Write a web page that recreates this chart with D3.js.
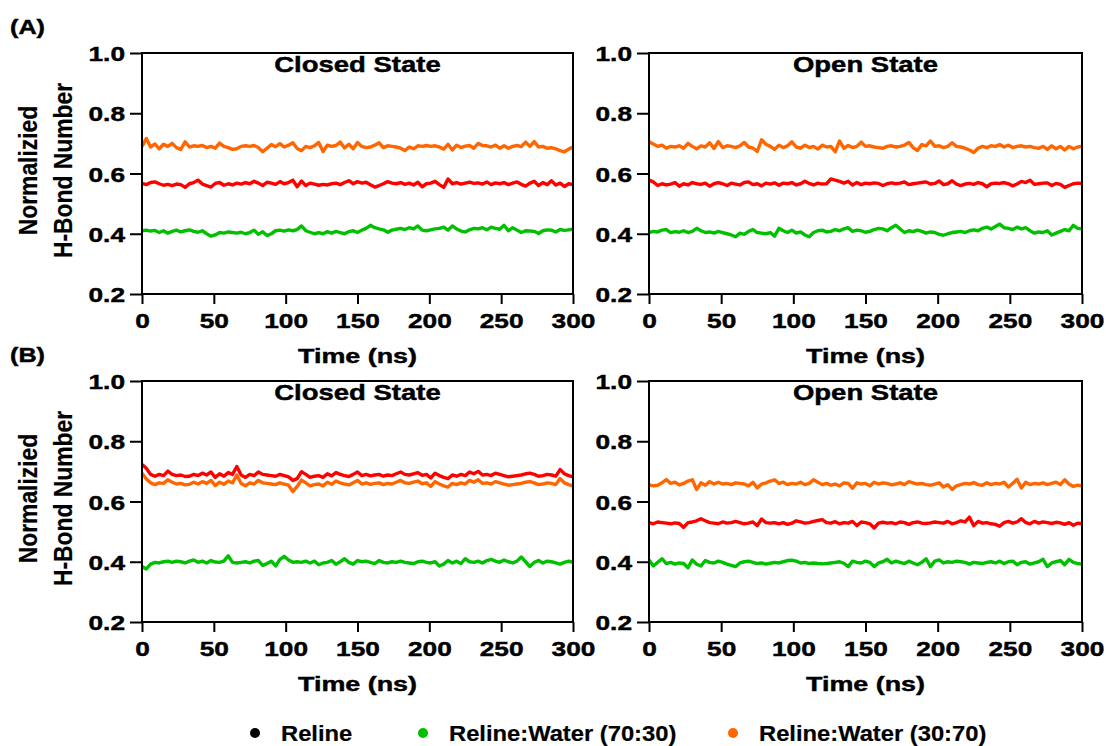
<!DOCTYPE html>
<html>
<head>
<meta charset="utf-8">
<script src="https://cdn.jsdelivr.net/npm/d3@7"></script>
<style>
  body { margin: 0; background: #fff; }
  svg { display: block; }
  text { font-family: "Liberation Sans", Arial, Helvetica, sans-serif; font-weight: bold; fill: #000; stroke: #000; stroke-width: 0.45px; }
</style>
</head>
<body>
<svg id="chart" width="1106" height="746"></svg>
<script>
// Sampling grid (ns) and axis ticks
const timeNs = d3.range(0, 301, 3);
const timeTicks = [0, 50, 100, 150, 200, 250, 300];
const hbondTicks = [0.2, 0.4, 0.6, 0.8, 1.0];
const seriesNames = ["Reline", "Reline:Water (70:30)", "Reline:Water (30:70)"];
const lineColors = ["#ff0000", "#00c000", "#ff6600"];
const legendColors = ["#000000", "#00c000", "#ff6600"];
const panelLetters = ["(A)", "(B)"];
const stateTitles = ["Closed State", "Open State"];

// (A) closed state
const relineAClosed = [
  .567,.563,.570,.572,.566,.561,.564,.560,.565,.563,
  .554,.566,.570,.578,.565,.560,.555,.567,.570,.561,
  .566,.562,.568,.565,.570,.566,.574,.568,.560,.571,
  .568,.564,.573,.566,.570,.578,.556,.575,.560,.568,
  .565,.561,.564,.562,.566,.568,.563,.570,.576,.566,
  .573,.568,.571,.563,.555,.560,.566,.573,.568,.566,
  .570,.564,.568,.562,.571,.556,.566,.568,.574,.563,
  .554,.582,.566,.570,.565,.568,.571,.567,.569,.565,
  .572,.563,.569,.566,.570,.563,.568,.572,.564,.558,
  .568,.574,.560,.570,.563,.576,.562,.568,.557,.566,
  .563];
const water7030AClosed = [
  .410,.412,.409,.411,.404,.410,.402,.408,.412,.406,
  .410,.413,.408,.405,.410,.400,.392,.396,.404,.402,
  .406,.404,.402,.405,.400,.404,.412,.398,.407,.394,
  .400,.410,.412,.409,.413,.410,.414,.426,.410,.405,
  .400,.404,.400,.407,.402,.408,.404,.400,.407,.410,
  .404,.412,.418,.428,.420,.416,.413,.405,.412,.415,
  .418,.414,.420,.416,.426,.412,.410,.413,.416,.418,
  .422,.412,.426,.416,.409,.406,.413,.418,.416,.420,
  .413,.422,.418,.415,.428,.410,.420,.412,.404,.410,
  .409,.408,.401,.410,.413,.412,.406,.414,.411,.413,
  .415];
const water3070AClosed = [
  .690,.716,.688,.698,.682,.697,.690,.700,.686,.680,
  .705,.688,.692,.690,.693,.686,.690,.684,.701,.690,
  .686,.680,.682,.690,.692,.690,.693,.686,.672,.684,
  .696,.689,.699,.688,.694,.702,.683,.676,.690,.686,
  .692,.703,.673,.694,.690,.693,.704,.685,.697,.682,
  .703,.690,.686,.688,.694,.702,.686,.692,.690,.688,
  .684,.676,.688,.682,.692,.690,.693,.690,.692,.688,
  .681,.697,.678,.694,.686,.691,.693,.684,.700,.693,
  .692,.688,.694,.684,.692,.684,.690,.693,.689,.704,
  .690,.706,.688,.690,.684,.686,.682,.676,.672,.681,
  .688];

// (A) open state
const relineAOpen = [
  .578,.572,.560,.566,.562,.565,.570,.558,.566,.562,
  .570,.566,.564,.568,.558,.566,.570,.566,.560,.568,
  .565,.562,.570,.572,.563,.566,.559,.568,.565,.569,
  .561,.568,.566,.570,.562,.566,.574,.567,.562,.568,
  .565,.566,.582,.578,.574,.568,.574,.562,.570,.563,
  .568,.566,.569,.567,.560,.566,.569,.566,.568,.572,
  .563,.566,.568,.570,.572,.565,.567,.575,.563,.566,
  .576,.565,.560,.565,.567,.564,.570,.566,.556,.566,
  .568,.567,.570,.566,.559,.565,.574,.570,.578,.564,
  .566,.568,.569,.560,.567,.564,.554,.560,.566,.568,
  .567];
const water7030AOpen = [
  .404,.408,.406,.412,.414,.404,.407,.405,.410,.404,
  .408,.418,.410,.404,.406,.402,.408,.404,.400,.396,
  .390,.402,.398,.408,.414,.404,.402,.400,.404,.392,
  .418,.410,.404,.412,.402,.406,.396,.390,.404,.410,
  .412,.406,.408,.414,.410,.416,.420,.408,.412,.410,
  .405,.408,.414,.418,.416,.410,.420,.428,.416,.404,
  .410,.407,.412,.408,.402,.406,.404,.398,.395,.400,
  .404,.406,.408,.404,.410,.413,.410,.418,.422,.416,
  .424,.432,.420,.418,.414,.422,.416,.420,.410,.402,
  .406,.404,.410,.396,.402,.408,.414,.410,.428,.418,
  .416];
const water3070AOpen = [
  .705,.698,.690,.694,.684,.690,.688,.692,.684,.700,
  .690,.682,.692,.688,.702,.683,.706,.686,.692,.690,
  .686,.692,.703,.688,.684,.673,.712,.697,.690,.680,
  .694,.686,.692,.705,.688,.684,.694,.686,.690,.681,
  .694,.688,.690,.672,.708,.684,.693,.686,.690,.704,
  .690,.692,.688,.686,.684,.690,.692,.688,.690,.694,
  .703,.686,.676,.696,.692,.708,.690,.692,.686,.690,
  .702,.690,.688,.684,.678,.670,.684,.690,.686,.692,
  .690,.696,.688,.694,.686,.690,.692,.688,.690,.686,
  .684,.690,.680,.692,.682,.690,.678,.690,.682,.688,
  .690];

// (B) closed state
const relineBClosed = [
  .723,.710,.690,.684,.690,.686,.701,.690,.686,.688,
  .683,.684,.690,.686,.694,.688,.698,.680,.692,.684,
  .696,.690,.716,.688,.680,.690,.686,.698,.690,.688,
  .686,.684,.690,.686,.682,.670,.676,.699,.690,.680,
  .684,.686,.680,.692,.685,.696,.690,.686,.683,.690,
  .698,.686,.690,.685,.688,.690,.684,.688,.686,.692,
  .698,.690,.688,.692,.696,.687,.690,.678,.694,.686,
  .680,.676,.688,.684,.690,.686,.698,.692,.700,.688,
  .690,.686,.694,.690,.686,.682,.684,.686,.688,.692,
  .694,.690,.684,.686,.690,.688,.684,.706,.692,.686,
  .682];
const water7030BClosed = [
  .384,.376,.392,.398,.396,.400,.402,.398,.402,.400,
  .396,.402,.406,.398,.402,.396,.404,.399,.398,.402,
  .420,.398,.396,.398,.400,.396,.402,.404,.388,.394,
  .402,.386,.408,.418,.406,.398,.400,.398,.402,.396,
  .402,.390,.396,.398,.404,.392,.400,.410,.398,.392,
  .404,.400,.402,.398,.394,.404,.398,.396,.400,.398,
  .402,.398,.396,.394,.400,.402,.398,.396,.400,.386,
  .392,.404,.396,.402,.394,.410,.400,.398,.402,.396,
  .404,.408,.402,.398,.406,.400,.396,.402,.416,.400,
  .384,.398,.404,.396,.402,.400,.396,.392,.398,.402,
  .398];
const water3070BClosed = [
  .694,.675,.662,.656,.662,.660,.672,.664,.658,.660,
  .655,.657,.664,.658,.666,.660,.670,.653,.664,.657,
  .668,.662,.688,.660,.652,.662,.658,.670,.662,.660,
  .658,.656,.662,.658,.654,.633,.650,.671,.662,.652,
  .656,.658,.652,.664,.657,.668,.662,.658,.655,.662,
  .670,.658,.662,.657,.660,.662,.656,.660,.658,.664,
  .670,.662,.660,.664,.668,.659,.662,.650,.666,.658,
  .652,.648,.660,.656,.662,.658,.670,.664,.672,.660,
  .662,.658,.666,.662,.658,.654,.656,.658,.660,.664,
  .666,.662,.656,.658,.662,.660,.656,.676,.662,.656,
  .652];

// (B) open state
const relineBOpen = [
  .530,.526,.532,.530,.528,.526,.529,.527,.514,.530,
  .532,.536,.543,.536,.530,.528,.526,.532,.528,.530,
  .534,.530,.526,.528,.532,.520,.542,.530,.528,.530,
  .526,.530,.524,.528,.536,.532,.528,.530,.534,.537,
  .540,.530,.528,.533,.526,.530,.528,.534,.520,.532,
  .530,.526,.512,.528,.531,.528,.530,.526,.532,.530,
  .524,.530,.532,.528,.527,.529,.532,.530,.528,.534,
  .526,.530,.536,.532,.548,.520,.534,.528,.530,.526,
  .524,.518,.530,.534,.528,.532,.543,.530,.526,.534,
  .528,.532,.530,.527,.531,.529,.524,.530,.521,.528,
  .526];
const water7030BOpen = [
  .406,.386,.398,.410,.394,.398,.392,.396,.394,.380,
  .406,.392,.386,.404,.398,.396,.402,.398,.392,.388,
  .384,.396,.400,.402,.398,.394,.396,.392,.395,.398,
  .396,.400,.404,.405,.402,.396,.398,.394,.396,.394,
  .393,.394,.396,.398,.400,.395,.384,.402,.398,.396,
  .402,.398,.384,.396,.400,.408,.396,.402,.398,.394,
  .402,.396,.390,.398,.410,.384,.402,.406,.396,.400,
  .398,.402,.400,.398,.392,.398,.396,.394,.398,.400,
  .396,.402,.394,.400,.402,.390,.398,.400,.392,.396,
  .400,.408,.384,.396,.400,.404,.390,.408,.398,.394,
  .392];
const water3070BOpen = [
  .655,.652,.654,.662,.673,.660,.664,.655,.660,.668,
  .672,.640,.662,.654,.666,.658,.664,.658,.660,.656,
  .662,.660,.658,.652,.664,.645,.658,.662,.668,.672,
  .660,.664,.656,.660,.658,.664,.656,.660,.672,.664,
  .656,.660,.654,.658,.652,.662,.660,.644,.662,.658,
  .660,.652,.664,.658,.662,.660,.655,.658,.662,.656,
  .666,.662,.658,.660,.656,.654,.658,.662,.648,.656,
  .640,.652,.656,.660,.658,.663,.656,.654,.662,.656,
  .660,.658,.664,.648,.660,.674,.645,.664,.656,.660,
  .658,.662,.656,.660,.664,.656,.672,.658,.650,.654,
  .652];

const panels = [
  { row: 0, col: 0, series: [relineAClosed, water7030AClosed, water3070AClosed] },
  { row: 0, col: 1, series: [relineAOpen, water7030AOpen, water3070AOpen] },
  { row: 1, col: 0, series: [relineBClosed, water7030BClosed, water3070BClosed] },
  { row: 1, col: 1, series: [relineBOpen, water7030BOpen, water3070BOpen] }
];

// Layout of the 2x2 grid
const colLeft = [142, 649], colRight = [573, 1082];
const rowTop = [53, 381], rowBottom = [294, 622];

const svg = d3.select("#chart");

// Text drawn with horizontal stretch (bold display face is wide)
function stretchedText(parent, x, y, str, size, sx, anchor) {
  const g = parent.append("g").attr("transform", `translate(${x},${y})`);
  g.append("text")
    .attr("transform", `scale(${sx},1)`)
    .attr("text-anchor", anchor || "middle")
    .style("font-size", size + "px")
    .text(str);
  return g;
}

panels.forEach(p => {
  const x = d3.scaleLinear().domain([0, 300]).range([colLeft[p.col], colRight[p.col]]);
  const y = d3.scaleLinear().domain([0.2, 1.0]).range([rowBottom[p.row], rowTop[p.row]]);
  const g = svg.append("g");

  // Data lines
  const line = d3.line().x((d, i) => x(timeNs[i])).y(d => y(d));
  [0, 2, 1].forEach(k => {
    g.append("path")
      .datum(p.series[k])
      .attr("d", line)
      .attr("fill", "none")
      .attr("stroke", lineColors[k])
      .attr("stroke-width", 3.4)
      .attr("stroke-linejoin", "round");
  });

  // Frame
  g.append("rect")
    .attr("x", x(0)).attr("y", y(1.0))
    .attr("width", x(300) - x(0)).attr("height", y(0.2) - y(1.0))
    .attr("fill", "none").attr("stroke", "#000").attr("stroke-width", 2);

  // Y axis
  const ya = g.append("g").attr("transform", `translate(${x(0)},0)`)
    .call(d3.axisLeft(y).tickValues(hbondTicks).tickFormat(d3.format(".1f"))
      .tickSize(12).tickSizeOuter(0).tickPadding(5));
  ya.select(".domain").remove();
  ya.selectAll(".tick line").attr("stroke", "#000").attr("stroke-width", 2);
  ya.selectAll(".tick text").each(function () {
    const t = d3.select(this);
    const tx = +t.attr("x");
    t.attr("x", 0).attr("transform", `translate(${tx},0) scale(1.25,1)`)
      .attr("font-family", null).attr("font-size", null)
      .style("font-size", "21px").attr("dy", "0.36em");
  });

  // X axis
  const xa = g.append("g").attr("transform", `translate(0,${y(0.2)})`)
    .call(d3.axisBottom(x).tickValues(timeTicks).tickFormat(d3.format("d"))
      .tickSize(10).tickSizeOuter(0).tickPadding(9));
  xa.select(".domain").remove();
  xa.selectAll(".tick line").attr("stroke", "#000").attr("stroke-width", 2);
  xa.selectAll(".tick text").each(function () {
    const t = d3.select(this);
    const ty = +t.attr("y");
    t.attr("y", 0).attr("transform", `translate(0,${ty}) scale(1.25,1)`)
      .attr("font-family", null).attr("font-size", null)
      .style("font-size", "21px");
  });

  const cx = (x(0) + x(300)) / 2;
  stretchedText(g, cx, y(1.0) + 19, stateTitles[p.col], 22, 1.25);
  stretchedText(g, cx, y(0.2) + 69, "Time (ns)", 21, 1.28);

  // Y title on the left column only
  if (p.col === 0) {
    const cy = (y(0.2) + y(1.0)) / 2 - 3;
    const yt = g.append("g").attr("transform", `translate(37,${cy}) rotate(-90)`);
    yt.append("text").attr("transform", "scale(0.88,1)").attr("text-anchor", "middle")
      .style("font-size", "26px").style("stroke-width", "0.2px").text("Normalizied");
    const yt2 = g.append("g").attr("transform", `translate(72,${cy}) rotate(-90)`);
    yt2.append("text").attr("transform", "scale(0.88,1)").attr("text-anchor", "middle")
      .style("font-size", "26px").style("stroke-width", "0.2px").text("H-Bond Number");

    stretchedText(g, 10, y(1.0) - 19, panelLetters[p.row], 21, 1.2, "start");
  }
});

// Legend
const legendDotX = [255, 423, 733];
const legendY = 733;
const legend = svg.append("g");
seriesNames.forEach((name, i) => {
  legend.append("circle")
    .attr("cx", legendDotX[i]).attr("cy", legendY).attr("r", 5)
    .attr("fill", legendColors[i]);
  stretchedText(legend, legendDotX[i] + 26, legendY + 8, name, 22, 1.08, "start")
    .select("text").style("stroke-width", "0.2px");
});
</script>
</body>
</html>
